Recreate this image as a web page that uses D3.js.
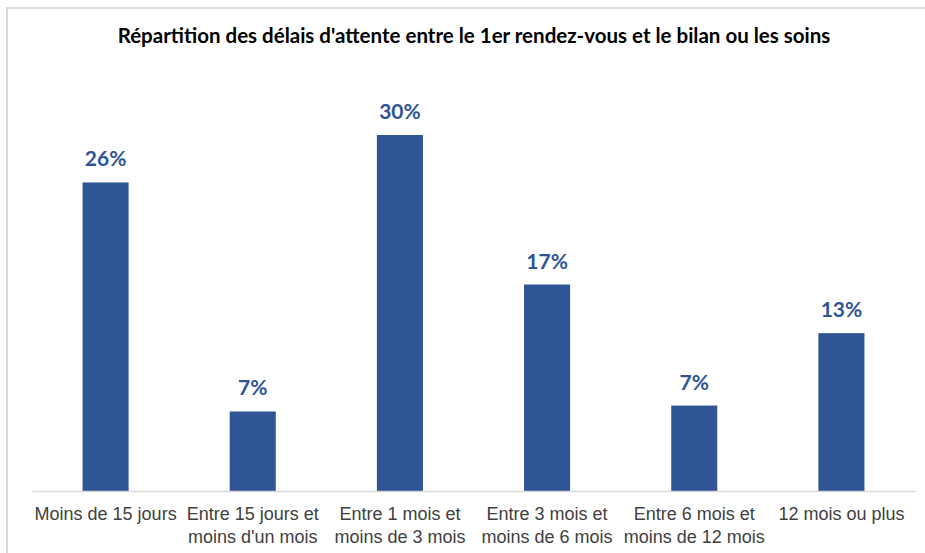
<!DOCTYPE html>
<html lang="fr">
<head>
    <meta charset="UTF-8">
    <title>Répartition des délais d'attente</title>
    <style>
        body { margin: 0; background: #fff; }
        svg { display: block; font-family: Lato, "Open Sans", sans-serif; }
    </style>
</head>
<body>
    <div id="my_dataviz"></div>
    <script src="https://d3js.org/d3.v7.min.js"></script>
    <script>
        // data
        var categories = [
            ["Moins de 15 jours"],
            ["Entre 15 jours et", "moins d'un mois"],
            ["Entre 1 mois et", "moins de 3 mois"],
            ["Entre 3 mois et", "moins de 6 mois"],
            ["Entre 6 mois et", "moins de 12 mois"],
            ["12 mois ou plus"]
        ];
        var values = [26.0, 6.7, 30.0, 17.4, 7.2, 13.3];
        var title = "Répartition des délais d'attente entre le 1er rendez-vous et le bilan ou les soins";

        var W = 925, H = 553;
        var plot = { left: 32, right: 915, top: 135, bottom: 491 };

        var svg = d3.select("#my_dataviz")
            .append("svg")
            .attr("width", W)
            .attr("height", H);

        // outer frame
        svg.append("rect")
            .attr("x", 7).attr("y", 8)
            .attr("width", W).attr("height", H)
            .attr("fill", "none")
            .attr("stroke", "#d9d9d9")
            .attr("stroke-width", 2);

        // title
        svg.append("text")
            .attr("x", 474)
            .attr("y", 43)
            .attr("text-anchor", "middle")
            .style("font-size", "20.5px")
            .style("font-weight", "bold")
            .style("fill", "#000")
            .text(title);

        var x = d3.scaleBand()
            .domain(d3.range(categories.length))
            .range([plot.left, plot.right])
            .padding(0);

        var y = d3.scaleLinear()
            .domain([0, 30])
            .range([plot.bottom, plot.top]);

        var barW = x.bandwidth() * 0.313;

        // bars
        svg.selectAll(".bar")
            .data(values)
            .enter()
            .append("rect")
            .attr("class", "bar")
            .attr("x", function (d, i) { return x(i) + x.bandwidth() / 2 - barW / 2; })
            .attr("y", function (d) { return y(d); })
            .attr("width", barW)
            .attr("height", function (d) { return plot.bottom - y(d); })
            .style("fill", "#2f5597");

        // value labels
        svg.selectAll(".val")
            .data(values)
            .enter()
            .append("text")
            .attr("class", "val")
            .attr("x", function (d, i) { return x(i) + x.bandwidth() / 2; })
            .attr("y", function (d) { return y(d) - 16; })
            .attr("text-anchor", "middle")
            .style("font-size", "21px")
            .style("font-weight", "bold")
            .style("fill", "#2f5597")
            .text(function (d) { return Math.round(d) + "%"; });

        // x axis
        var xAxis = svg.append("g")
            .attr("transform", "translate(0," + plot.bottom + ")")
            .call(d3.axisBottom(x).tickSize(0).tickFormat(""));
        xAxis.select(".domain").attr("stroke", "#d9d9d9").attr("stroke-width", 1.5);

        xAxis.selectAll(".tick text").remove();
        xAxis.selectAll(".tick")
            .append("text")
            .attr("text-anchor", "middle")
            .style("font-size", "18px")
            .style("fill", "#404040")
            .selectAll("tspan")
            .data(function (d) { return categories[d]; })
            .enter()
            .append("tspan")
            .attr("x", 0)
            .attr("y", function (d, i) { return 29 + i * 22.5; })
            .text(function (d) { return d; });
    </script>
</body>
</html>
